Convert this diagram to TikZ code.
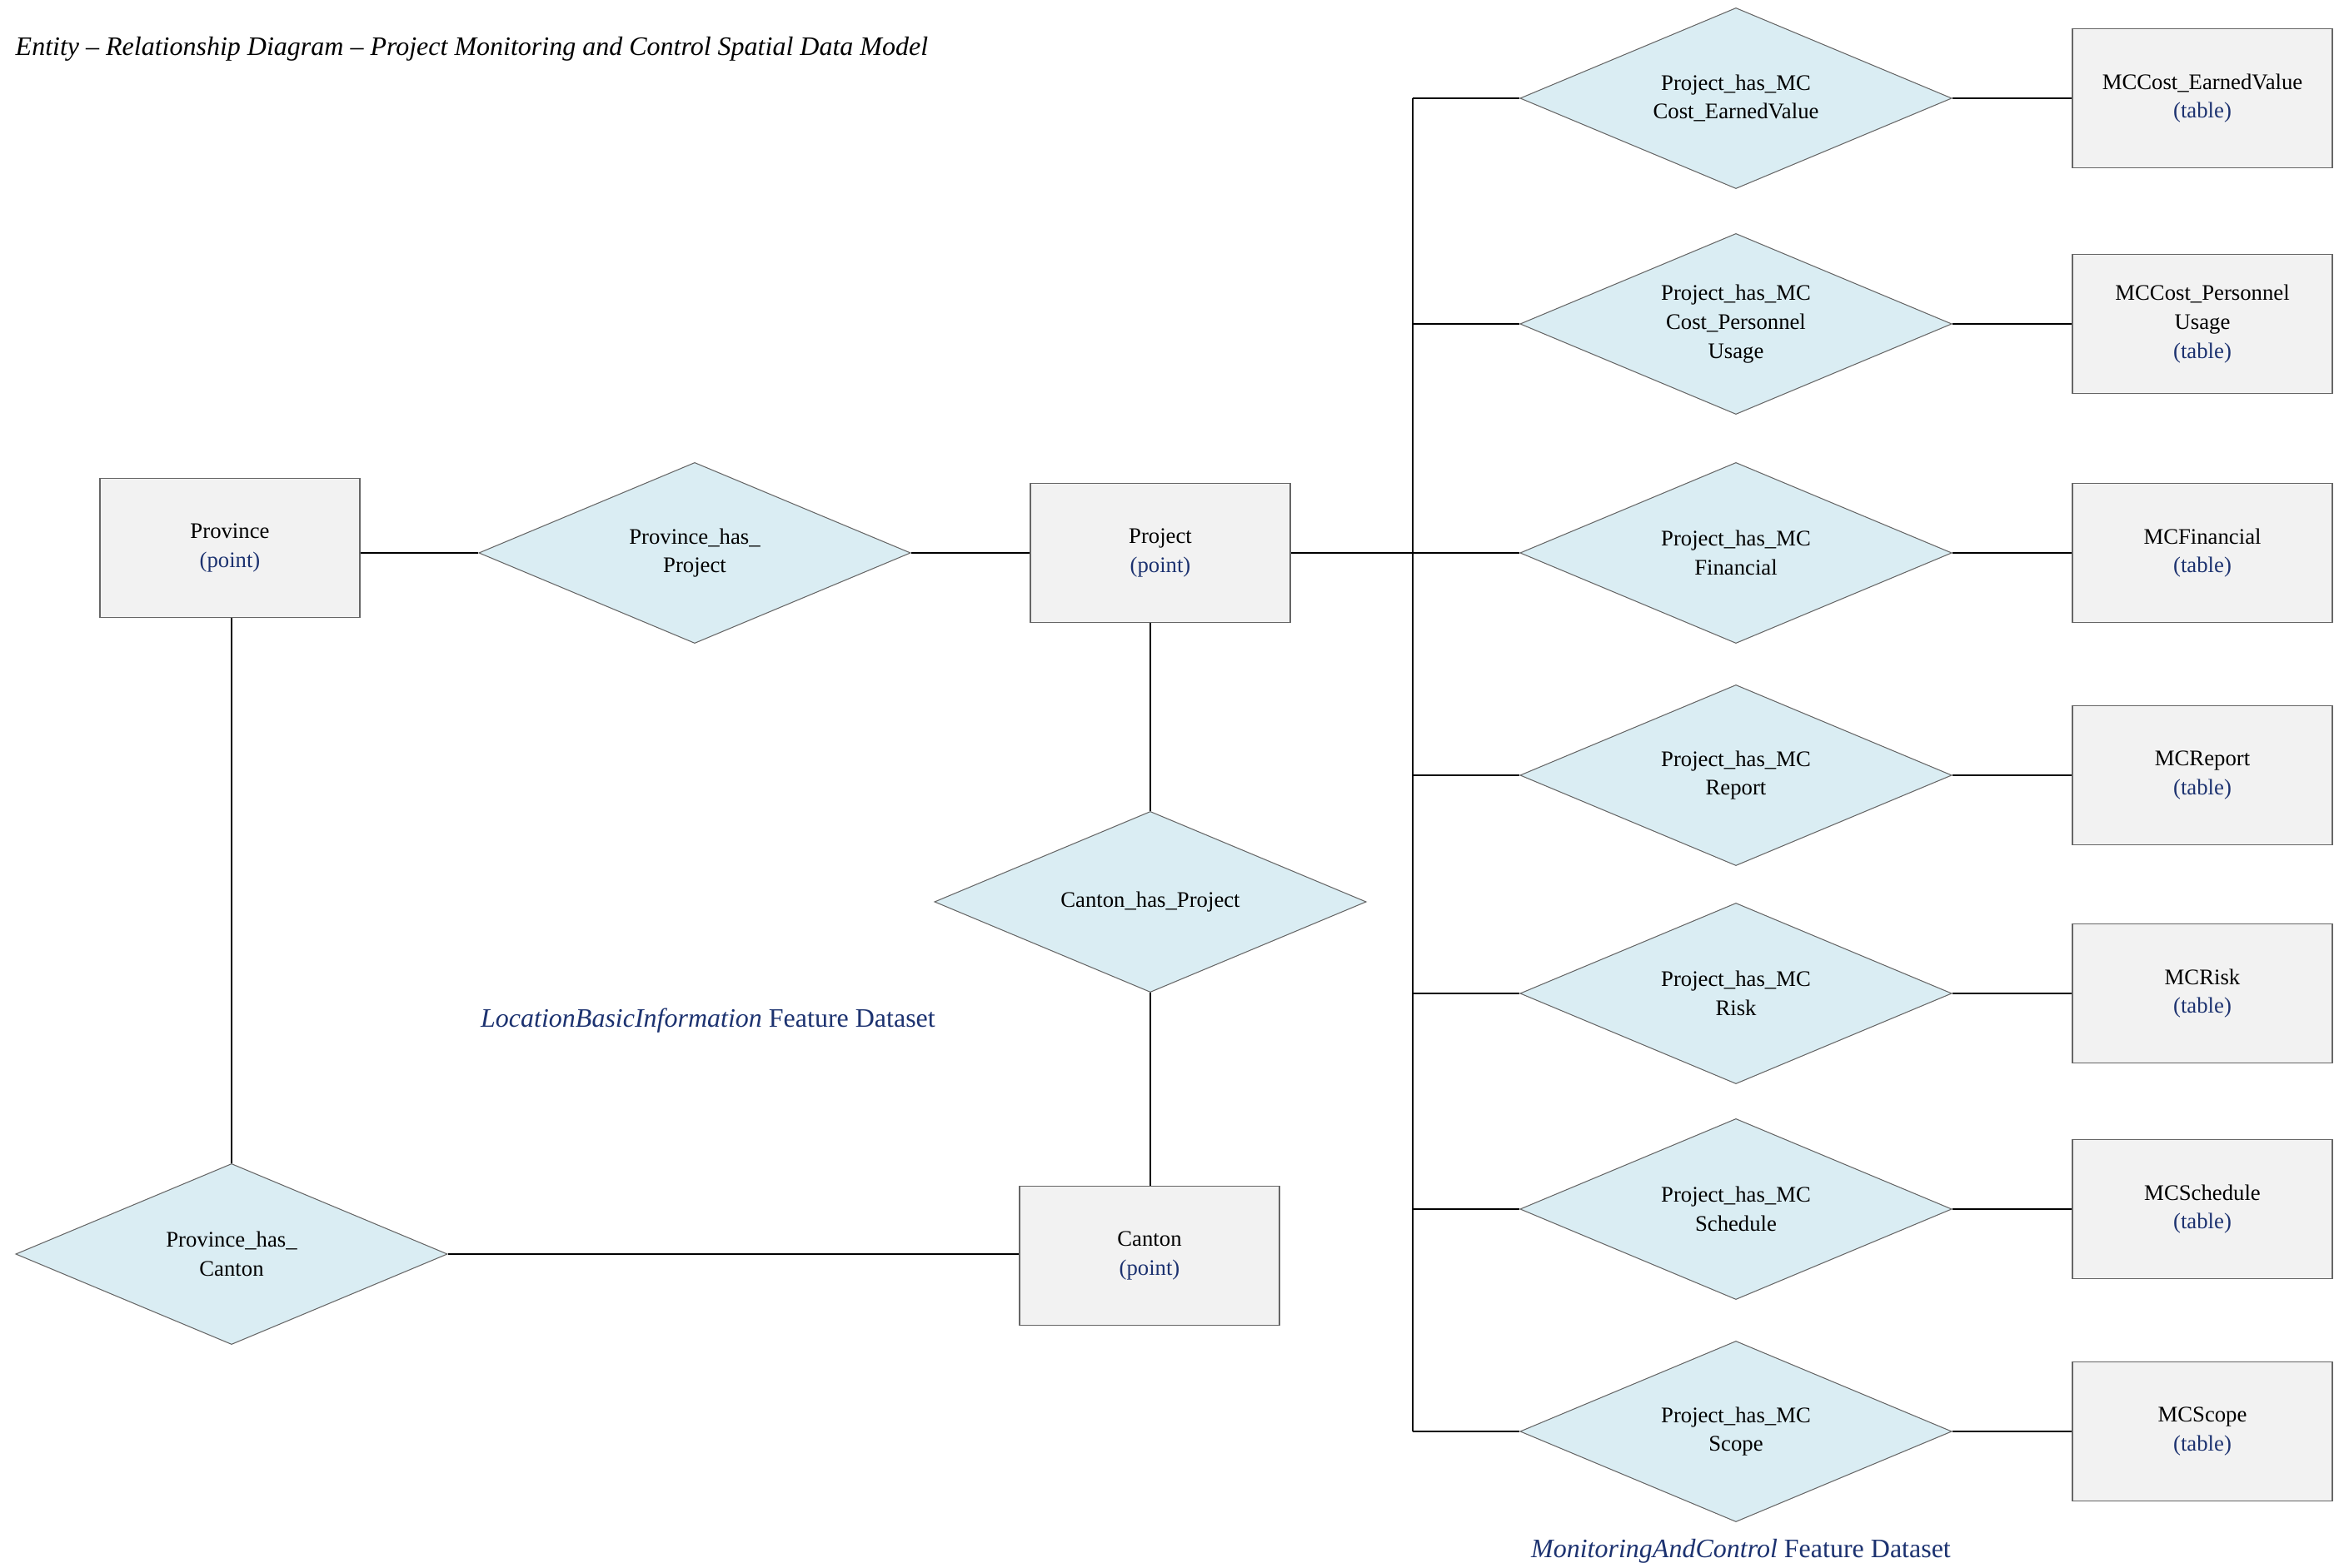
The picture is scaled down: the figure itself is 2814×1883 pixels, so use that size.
\documentclass[tikz,border=0pt]{standalone}
\usepackage{fontspec}
\setmainfont{Liberation Serif}
\usetikzlibrary{shapes.geometric}
\definecolor{boxfill}{HTML}{F2F2F2}
\definecolor{relfill}{HTML}{DAEDF3}
\definecolor{edgegray}{HTML}{666666}
\definecolor{navy}{HTML}{1C3270}
\newcommand{\pointtag}{\textcolor{navy}{(point)}}
\newcommand{\tabletag}{\textcolor{navy}{(table)}}
\tikzset{
  entity/.style={draw=edgegray, fill=boxfill, line width=0.4pt, align=center, inner sep=0pt,
    minimum width=3.12cm, minimum height=1.67cm},
  relation/.style={diamond, draw=edgegray, fill=relfill, line width=0.3pt, align=center, inner sep=0pt,
    aspect=2.4, minimum width=5.18cm, minimum height=2.17cm},
  link/.style={line width=0.6pt},
  dataset/.style={text=navy, font=\fontsize{9.1}{10.5}\selectfont}
}

\begin{document}
\begin{tikzpicture}[x=0.01cm, y=-0.01cm, font=\fontsize{7.6}{9.9}\selectfont]
\useasboundingbox (0,0) rectangle (2814,1883);
\node[anchor=west, inner sep=0pt, font=\fontsize{9.1}{10.5}\selectfont\itshape] (title) at (18,59)
  {Entity -- Relationship Diagram -- Project Monitoring and Control Spatial Data Model};

% location side
\node[entity] (province) at (276,658) {Province\\\pointtag};
\node[relation] (provproj) at (834,664) {Province\_has\_\\Project};
\node[entity] (project) at (1393,664) {Project\\\pointtag};
\node[relation] (canproj) at (1381,1083) {Canton\_has\_Project};
\node[entity] (canton) at (1380,1508) {Canton\\\pointtag};
\node[relation] (provcan) at (278,1506) {Province\_has\_\\Canton};
\node[dataset] (locset) at (850,1226) {\textit{LocationBasicInformation} Feature Dataset};

\draw[link] (province.east |- provproj.west) -- (provproj.west);
\draw[link] (provproj.east) -- (provproj.east -| project.west);
\draw[link] (province.south -| provcan.north) -- (provcan.north);
\draw[link] (provcan.east) -- (provcan.east -| canton.west);
\draw[link] (canproj.north |- project.south) -- (canproj.north);
\draw[link] (canproj.south) -- (canproj.south |- canton.north);

% monitoring and control side
\coordinate (bustop) at (1696,118);
\coordinate (busbot) at (1696,1719);
\draw[link] (project.east) -- (project.east -| bustop);
\draw[link] (bustop) -- (busbot);
\foreach \nm/\yy/\rtext/\ttext in {
  cev/118/{Project\_has\_MC\\Cost\_EarnedValue}/{MCCost\_EarnedValue},
  cpu/389/{Project\_has\_MC\\Cost\_Personnel\\Usage}/{MCCost\_Personnel\\Usage},
  fin/664/{Project\_has\_MC\\Financial}/{MCFinancial},
  rep/931/{Project\_has\_MC\\Report}/{MCReport},
  risk/1193/{Project\_has\_MC\\Risk}/{MCRisk},
  sch/1452/{Project\_has\_MC\\Schedule}/{MCSchedule},
  scp/1719/{Project\_has\_MC\\Scope}/{MCScope}}{
  \node[relation] (r\nm) at (2084,\yy) {\rtext};
  \node[entity] (t\nm) at (2644,\yy) {\ttext\\\tabletag};
  \draw[link] (r\nm.west -| bustop) -- (r\nm.west);
  \draw[link] (r\nm.east) -- (t\nm.west);
}
\node[dataset] (mcset) at (2090,1863) {\textit{MonitoringAndControl} Feature Dataset};
\end{tikzpicture}
\end{document}
